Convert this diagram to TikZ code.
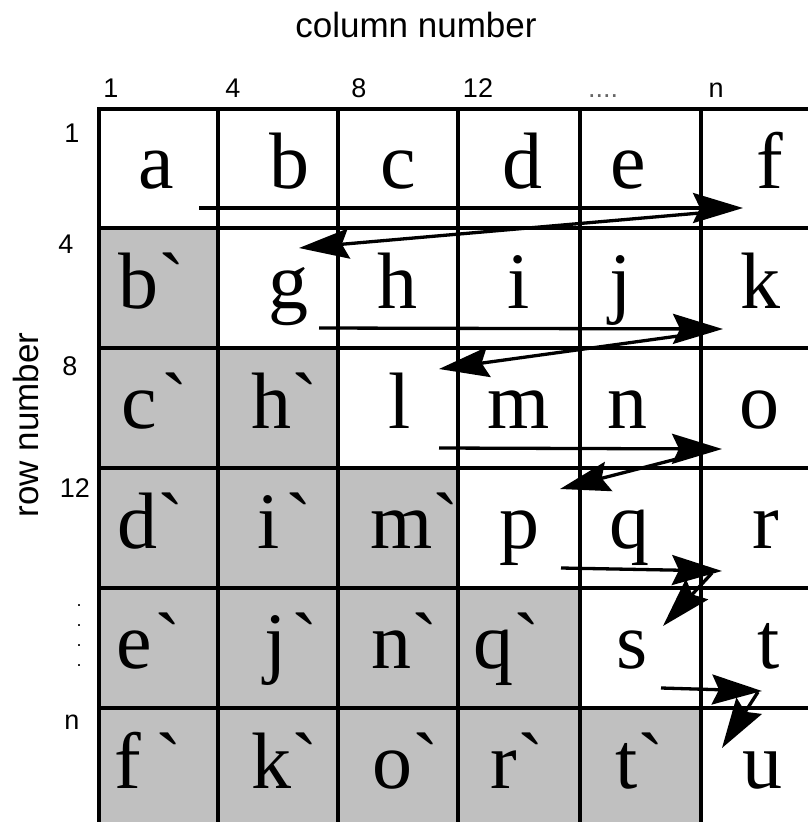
\documentclass[tikz,border=0pt]{standalone}
\usepackage{fontspec}
\setmainfont{Liberation Sans}
\newfontfamily\cellfont[Ligatures=TeXOff]{Liberation Serif}
\usepackage{tikz}
\usetikzlibrary{arrows.meta}
\definecolor{cellgray}{HTML}{C0C0C0}
\definecolor{inkblack}{HTML}{000000}
\tikzset{
  gridline/.style={line width=3.3pt, color=inkblack, line cap=rect},
  letter/.style={
    anchor=base, inner sep=0pt,
    font=\cellfont\fontsize{80}{80}\selectfont
  },
  axistitle/.style={anchor=base, inner sep=0pt, font=\fontsize{35}{35}\selectfont},
  indexlabel/.style={anchor=base, inner sep=0pt, font=\fontsize{27}{27}\selectfont},
  scanarrow/.style={-{Stealth[length=50pt, width=30pt, inset=7pt]}, line width=3.3pt, color=inkblack},
}

\begin{document}
\begin{tikzpicture}[x=1pt, y=-1pt]

  \useasboundingbox (0,0) rectangle (808,822);
  \clip (0,0) rectangle (808,822);

  % --- Shaded lower half ---
  \fill[cellgray] (99,228) rectangle (218,348);
  \fill[cellgray] (99,348) rectangle (338,468);
  \fill[cellgray] (99,468) rectangle (458,588);
  \fill[cellgray] (99,588) rectangle (580,708);
  \fill[cellgray] (99,708) rectangle (701,830);

  % --- Grid ---
  \draw[gridline] (99,109) -- (99,830)   (218,109) -- (218,830)
                  (338,109) -- (338,830) (458,109) -- (458,830)
                  (580,109) -- (580,830) (701,109) -- (701,830);
  \draw[gridline] (99,109) -- (815,109)  (99,228) -- (815,228)
                  (99,348) -- (815,348)  (99,468) -- (815,468)
                  (99,588) -- (815,588)  (99,708) -- (815,708);

  % --- Titles ---
  \node[axistitle] (coltitle) at (416,37) {column number};
  \node[axistitle, rotate=90] (rowtitle) at (38,425) {row number};

  % --- Column index ---
  \node[indexlabel] (col1)    at (111,97) {1};
  \node[indexlabel] (col4)    at (233,97) {4};
  \node[indexlabel] (col8)    at (359,97) {8};
  \node[indexlabel] (col12)   at (478,97) {12};
  \node[indexlabel, color=inkblack!60] (coldots) at (603,97) {....};
  \node[indexlabel] (coln)    at (716,97) {n};

  % --- Row index ---
  \node[indexlabel] (row1)  at (72,142) {1};
  \node[indexlabel] (row4)  at (66,253) {4};
  \node[indexlabel] (row8)  at (70,375) {8};
  \node[indexlabel] (row12) at (75,497) {12};
  \node[inner sep=0pt, anchor=north, align=center,
        font=\fontsize{18}{20}\selectfont] (rowdots) at (79,604) {.\\.\\.\\.};
  \node[indexlabel] (rown)  at (72,729) {n};

  % --- Row 1 ---
  \node[letter] (a) at (156,188) {a};
  \node[letter] (b) at (289,188) {b};
  \node[letter] (c) at (398,188) {c};
  \node[letter] (d) at (522,188) {d};
  \node[letter] (e) at (628,188) {e};
  \node[letter] (f) at (770,188) {f};

  % --- Row 2 ---
  \node[letter] (bp) at (152,308) {b`};
  \node[letter] (g)  at (288,308) {g};
  \node[letter] (h)  at (397,308) {h};
  \node[letter] (i)  at (519,308) {i};
  \node[letter] (j)  at (621,308) {j};
  \node[letter] (k)  at (760,308) {k};

  % --- Row 3 ---
  \node[letter] (cp) at (155,428) {c\hspace{4pt}`};
  \node[letter] (hp) at (285,428) {h`};
  \node[letter] (l)  at (400,428) {l};
  \node[letter] (m)  at (519,428) {m};
  \node[letter] (n)  at (627,428) {n};
  \node[letter] (o)  at (759,428) {o};

  % --- Row 4 ---
  \node[letter] (dp) at (151,548) {d`};
  \node[letter] (ip) at (285,548) {i\hspace{6pt}`};
  \node[letter] (mp) at (415,548) {m`};
  \node[letter] (p)  at (519,548) {p};
  \node[letter] (q)  at (629,548) {q};
  \node[letter] (r)  at (766,548) {r};

  % --- Row 5 ---
  \node[letter] (ep) at (149,668) {e\hspace{3pt}`};
  \node[letter] (jp) at (291,668) {j\hspace{5pt}`};
  \node[letter] (np) at (405,668) {n`};
  \node[letter] (qp) at (507,668) {q`};
  \node[letter] (s)  at (632,668) {s};
  \node[letter] (t)  at (769,668) {t};

  % --- Row 6 ---
  \node[letter] (fp) at (148,788) {f\hspace{14pt}`};
  \node[letter] (kp) at (285,788) {k`};
  \node[letter] (op) at (406,788) {o`};
  \node[letter] (rp) at (517,788) {r`};
  \node[letter] (tp) at (640,788) {t`};
  \node[letter] (u)  at (762,788) {u};

  % --- Scan path ---
  \coordinate (run1from) at (199,208);
  \coordinate (run1to)   at (743,208);
  \coordinate (back1)    at (700,213);
  \coordinate (back1to)  at (299,248);
  \coordinate (run2from) at (319,328);
  \coordinate (run2to)   at (723,329);
  \coordinate (back2)    at (700,333);
  \coordinate (back2to)  at (439,369);
  \coordinate (run3from) at (439,448);
  \coordinate (run3to)   at (722,449);
  \coordinate (back3)    at (700,453);
  \coordinate (back3to)  at (560,489);
  \coordinate (run4from) at (561,568);
  \coordinate (run4to)   at (722,571);
  \coordinate (back4)    at (712,573);
  \coordinate (back4to)  at (663,626);
  \coordinate (run5from) at (661,688);
  \coordinate (run5to)   at (762,691);
  \coordinate (back5)    at (758,692);
  \coordinate (back5to)  at (722,748);

  \draw[scanarrow] (run1from) -- (run1to);
  \draw[scanarrow] (back1) -- (back1to);
  \draw[scanarrow] (run2from) -- (run2to);
  \draw[scanarrow] (back2) -- (back2to);
  \draw[scanarrow] (run3from) -- (run3to);
  \draw[scanarrow] (back3) -- (back3to);
  \draw[scanarrow] (run4from) -- (run4to);
  \draw[scanarrow] (back4) -- (back4to);
  \draw[scanarrow] (run5from) -- (run5to);
  \draw[scanarrow] (back5) -- (back5to);

\end{tikzpicture}
\end{document}
